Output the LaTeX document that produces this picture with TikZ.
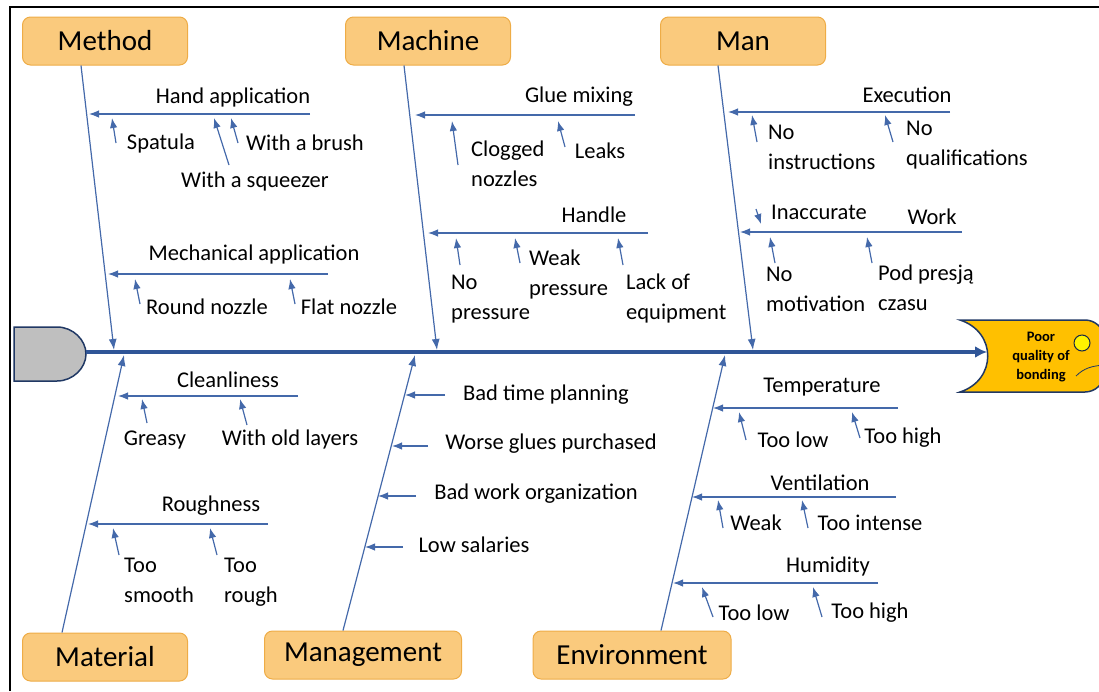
\documentclass[tikz,border=0pt]{standalone}
\usepackage{fontspec}
\setmainfont{Carlito}
\usetikzlibrary{arrows.meta}
\usetikzlibrary{positioning}

\definecolor{bonecol}{RGB}{68,105,170}
\definecolor{spinecol}{RGB}{47,85,151}
\definecolor{navy}{RGB}{32,56,100}
\definecolor{catfill}{RGB}{250,202,125}
\definecolor{catline}{RGB}{238,172,70}
\definecolor{headfill}{RGB}{255,192,0}

\tikzset{
  cat/.style={draw=catline, fill=catfill, rounded corners=8pt, line width=1pt,
    minimum width=165pt, minimum height=48pt, font=\fontsize{29}{34}\selectfont},
  lbl/.style={inner sep=1pt, font=\fontsize{22.5}{30}\selectfont},
  lbl2/.style={lbl, anchor=west, align=left},
  bone/.style={draw=bonecol, line width=1.2pt, -{Latex[length=11pt,width=8pt]}},
  twig/.style={draw=bonecol, line width=1.2pt, -{Latex[length=10pt,width=7.5pt]}},
}

\begin{document}
\begin{tikzpicture}[x=1pt, y=-1pt]
\useasboundingbox (0,0) rectangle (1099,691);
\draw[line width=1.2pt] (10,691) -- (10,7) -- (1099,7);

% tail and head
\draw[fill=black!25, draw=navy, line width=1.5pt] (14,327) -- (57,327)
  .. controls (73,327) and (86,340) .. (86,354)
  .. controls (86,368) and (73,381) .. (57,381) -- (14,381) -- cycle;
\draw[fill=headfill, draw=navy, line width=1.5pt] (960,320) -- (1085,320)
  .. controls (1095,320) and (1104,328) .. (1104,338) -- (1104,374)
  .. controls (1104,384) and (1095,392) .. (1085,392) -- (960,392)
  .. controls (997,380) and (997,332) .. (960,320) -- cycle;
\draw[fill=yellow, draw=navy!70!black, line width=1pt] (1082,343) circle[radius=8];
\draw[navy, line width=0.8pt] (1076,376) .. controls (1084,368) and (1092,366) .. (1104,365);
\node[font=\bfseries\fontsize{14.5}{19}\selectfont, align=center] (effect) at (1041,357) {Poor\\quality of\\bonding};

% spine
\coordinate (sp-s) at (86,352);
\coordinate (sp-e) at (987,352);
\draw[spinecol, line width=3.5pt, -{Latex[length=12pt,width=12pt]}] (sp-s) -- (sp-e);

% categories
\node[cat] (method) at (105,41) {Method};
\node[cat] (machine) at (428,41) {Machine};
\node[cat] (man) at (743,41) {Man};
\node[cat] (material) at (105,657) {Material};
\node[cat, minimum width=197pt] (mgmt) at (363,655) {Management};
\node[cat, minimum width=198pt] (env) at (632,655) {Environment};

% main bones
\foreach \c/\xa/\xb in {method/81/114, machine/404/437, man/718/753} {
  \coordinate (\c-tip) at (\xb,350);
  \draw[bone] (\xa,0 |- \c.south) -- (\c-tip);
}
\foreach \c/\xa/\xb in {material/62/124, mgmt/343/415, env/661/725} {
  \coordinate (\c-tip) at (\xb,355);
  \draw[bone] (\xa,0 |- \c.north) -- (\c-tip);
}

% level 2 : twigs
\foreach \n/\xa/\ya/\xb/\yb in {
    hand/310/114/89/114, spat/116/143/112/118, squz/229/165/214/118, brsh/238/143/231/118,
    mech/328/274/108/274, rnd/140/304/135/279, flat/295/304/290/279,
    glue/635/115/415/115, clog/458/165/452/121, leak/565/147/558/121,
    hndl/648/233/428/233, nopr/460/265/456/238, wkpr/520/263/515/238, lack/623/265/618/238,
    exec/950/112/728/112, noin/757/142/752/115, noqu/893/142/885/115,
    work/962/232/740/232, inac/756/209/761/224, nomo/775/263/770/237, pod/872/263/867/237,
    cln/298/396/118/396, grs/147/423/142/399, old/247/425/240/399,
    rgh/268/524/88/524, smth/119/555/113/528, trgh/217/555/210/528,
    btp/445/395/405/395, wgp/428/446/392/446, bwo/416/496/378/496, lows/403/547/365/547,
    temp/898/408/713/408, tlow/746/440/739/412, thgh/860/438/852/412,
    vent/896/497/692/497, weak/723/528/718/500, tint/808/528/802/500,
    hum/878/583/673/583, hlow/713/617/702/587, hhgh/822/617/813/587} {
  \coordinate (\n-a) at (\xa,\ya);
  \coordinate (\n-b) at (\xb,\yb);
  \draw[twig] (\n-a) -- (\n-b);
}

% labels
\foreach \n/\x/\y/\t in {
    handl/233/97/Hand application, spatl/161/143/Spatula, squzl/255/181/With a squeezer,
    brshl/305/143/With a brush, mechl/254/254/Mechanical application,
    rndl/207/307/Round nozzle, flatl/349/307/Flat nozzle,
    gluel/579/97/Glue mixing, leakl/600/151/Leaks, hndll/594/215/Handle,
    execl/907/95/Execution, workl/932/217/Work, inacl/819/212/Inaccurate,
    clnl/228/380/Cleanliness, grsl/155/440/Greasy, oldl/290/439/With old layers,
    rghl/211/506/Roughness,
    btpl/546/395/Bad time planning, wgpl/551/444/Worse glues purchased,
    bwol/536/494/Bad work organization, lowsl/474/545/Low salaries,
    templ/822/387/Temperature, tlowl/793/440/Too low, thghl/903/438/Too high,
    ventl/820/483/Ventilation, weakl/756/523/Weak, tintl/870/523/Too intense,
    huml/828/566/Humidity, hlowl/754/613/Too low, hhghl/870/613/Too high} {
  \node[lbl] (\n) at (\x,\y) {\t};
}
\foreach \n/\x/\y/\t in {
    clogl/470/164/{Clogged\\nozzles}, noprl/450/299/{No\\pressure},
    wkprl/528/274/{Weak\\pressure}, lackl/625/298/{Lack of\\equipment},
    noinl/767/147/{No\\instructions}, noqul/905/145/{No\\qualifications},
    nomol/765/289/{No\\motivation}, podl/877/288/{Pod presją\\czasu},
    smthl/123/580/{Too\\smooth}, trghl/223/582/{Too\\rough}} {
  \node[lbl2] (\n) at (\x,\y) {\t};
}
\end{tikzpicture}
\end{document}
